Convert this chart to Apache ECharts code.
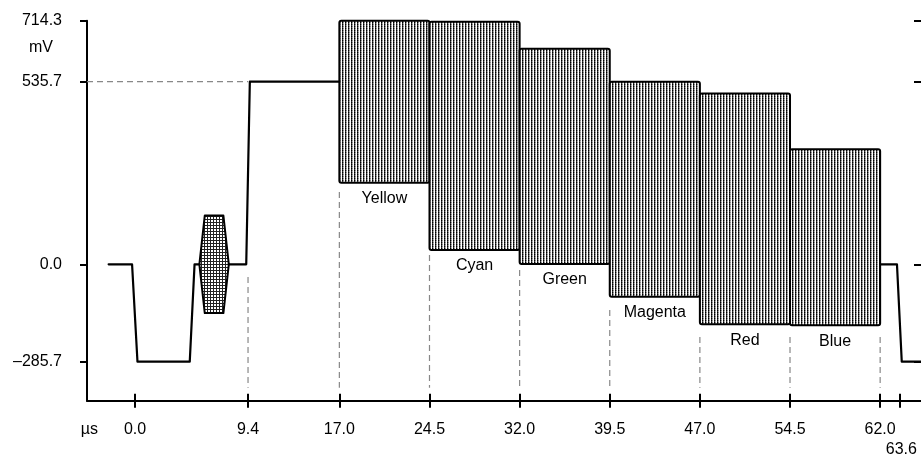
<!DOCTYPE html>
<html><head><meta charset="utf-8">
<script src="https://cdn.jsdelivr.net/npm/echarts@6/dist/echarts.min.js"></script>
<style>html,body{margin:0;padding:0;background:#fff}#c{width:921px;height:458px}</style>
</head><body><div id="c"></div>
<script>
// ---------- data ----------
const xTicks = [0.0, 9.4, 17.0, 24.5, 32.0, 39.5, 47.0, 54.5, 62.0, 63.6];
const xLowLabels = [63.6];            // tick label printed on a second, lower row
const yTicks = [-285.7, 0.0, 535.7, 714.3];
const xUnit = 'µs';
const yUnit = 'mV';
const barNames  = ['Yellow', 'Cyan', 'Green', 'Magenta', 'Red', 'Blue'];
const barStart  = [17.0, 24.5, 32.0, 39.5, 47.0, 54.5];
const barEnd    = [24.5, 32.0, 39.5, 47.0, 54.5, 62.0];
const barTop    = [714, 711, 632, 535, 501, 337];
const barBottom = [239, 42, 1, -95, -176, -179];
// colour burst envelope (µs, ±mV)
const burstTime = [5.35, 5.8, 7.35, 7.8];
const burstAmp  = [0, 142.9, 142.9, 0];
// waveform segments (µs, mV)
const waveA_t = [-2.2, -0.25, 0.2, 4.55, 4.95, 5.35];
const waveA_v = [0, 0, -285.7, -285.7, 0, 0];
const waveB_t = [7.8, 9.25, 9.55, 17.0];
const waveB_v = [0, 0, 535.7, 535.7];
const waveC_t = [62.0, 63.4, 63.8, 65.4];
const waveC_v = [0, 0, -285.7, -285.7];
// dashed guides
const refLevel = 535.7, refEnd = 9.4;
const guideTime   = [9.4, 17.0, 24.5, 32.0, 39.5, 47.0, 54.5, 62.0];
const guideTop    = [-37, 212, 27, -17, -134, -213, -213, -213];
const guideBottom = -362;

// ---------- layout constants ----------
const xMin = -4, xMax = 65.4, yMin = -400, yMax = 714.3;
const xUnitAt = -3.8, yUnitAt = 636;
const FONT = 'Liberation Sans';

// patterns
function stripePattern() {
  const c = document.createElement('canvas'); c.width = 3; c.height = 2;
  const g = c.getContext('2d');
  g.fillStyle = '#fff'; g.fillRect(0, 0, 3, 2);
  g.fillStyle = '#000'; g.fillRect(0, 0, 1, 1);
  g.fillStyle = '#333'; g.fillRect(0, 1, 1, 1);
  g.fillStyle = '#888'; g.fillRect(1, 0, 1, 1);
  g.fillStyle = '#bbb'; g.fillRect(1, 1, 1, 1);
  return { image: c, repeat: 'repeat' };
}
function gridPattern() {
  const c = document.createElement('canvas'); c.width = 3; c.height = 3;
  const g = c.getContext('2d');
  g.fillStyle = '#fff'; g.fillRect(0, 0, 3, 3);
  g.fillStyle = '#222'; g.fillRect(0, 0, 3, 1); g.fillRect(0, 0, 1, 3);
  return { image: c, repeat: 'repeat' };
}
const stripes = stripePattern();
const gridFill = gridPattern();

const zip = (a, b) => a.map((v, i) => [v, b[i]]);
const fmt = v => (v < 0 ? '\u2013' + Math.abs(v).toFixed(1) : v.toFixed(1));

const chart = echarts.init(document.getElementById('c'), null, { renderer: 'canvas' });

const waveStyle = { color: '#000', width: 2.2, join: 'round', cap: 'round' };
function waveSeries(t, v) {
  return { type: 'line', data: zip(t, v), symbol: 'none', silent: true, z: 5,
    lineStyle: waveStyle, animation: false };
}
const topRowLabels = xTicks.filter(v => xLowLabels.indexOf(v) < 0);

const option = {
  animation: false,
  backgroundColor: '#fff',
  grid: { left: 87, right: 0, top: 20.7, bottom: 57.3, containLabel: false, outerBoundsMode: 'none' },
  xAxis: [{
    type: 'value', min: xMin, max: xMax, position: 'bottom',
    axisLine: { show: true, onZero: false, lineStyle: { color: '#000', width: 2 } },
    axisTick: { show: true, customValues: xTicks, length: 7, inside: false, lineStyle: { color: '#000', width: 2 } },
    axisLabel: {
      customValues: [xUnitAt].concat(topRowLabels), margin: 21, color: '#000',
      fontFamily: FONT, fontSize: 16, hideOverlap: false,
      formatter: v => (v === xUnitAt ? xUnit : fmt(v))
    },
    splitLine: { show: false }
  }, {
    type: 'value', min: xMin, max: xMax, position: 'bottom',
    axisLine: { show: false, onZero: false },
    axisTick: { show: true, customValues: xTicks, length: 7, inside: true, lineStyle: { color: '#000', width: 2 } },
    axisLabel: {
      customValues: xLowLabels, margin: 41, color: '#000',
      fontFamily: FONT, fontSize: 16, hideOverlap: false,
      formatter: v => '{d|' + fmt(v) + '}',
      rich: { d: { fontFamily: FONT, fontSize: 16, color: '#000', padding: [0, 0, 0, 4] } }
    },
    splitLine: { show: false }
  }],
  yAxis: [{
    type: 'value', min: yMin, max: yMax,
    axisLine: { show: true, onZero: false, lineStyle: { color: '#000', width: 2 } },
    axisTick: { show: true, customValues: yTicks, length: 7, inside: false, lineStyle: { color: '#000', width: 2 } },
    axisLabel: {
      customValues: yTicks.concat([yUnitAt]), margin: 25, color: '#000',
      fontFamily: FONT, fontSize: 16, hideOverlap: false,
      formatter: v => (v === yUnitAt ? '{u|' + yUnit + '}' : fmt(v)),
      rich: { u: { fontFamily: FONT, fontSize: 16, color: '#000', padding: [0, 9, 0, 0] } }
    },
    splitLine: { show: false }
  }, {
    type: 'value', min: yMin, max: yMax,
    axisLine: { show: false, onZero: false },
    axisTick: { show: true, customValues: yTicks, length: 7, inside: true, lineStyle: { color: '#000', width: 2 } },
    axisLabel: { show: false }, splitLine: { show: false }
  }],
  series: [
    // horizontal dashed reference
    { type: 'line', data: [[xMin, refLevel], [refEnd, refLevel]], symbol: 'none', silent: true, z: 1,
      lineStyle: { color: '#888', width: 1.2, type: [6, 4] } },
    // vertical dashed guides
    { type: 'custom', z: 1, silent: true,
      data: guideTime.map((t, i) => [t, guideTop[i], guideBottom]),
      renderItem: (params, api) => {
        const a = api.coord([api.value(0), api.value(1)]);
        const b = api.coord([api.value(0), api.value(2)]);
        return { type: 'line', shape: { x1: a[0], y1: a[1], x2: b[0], y2: b[1] },
          style: { stroke: '#888', lineWidth: 1.2, lineDash: [6, 4] } };
      } },
    waveSeries(waveA_t, waveA_v),
    waveSeries(waveB_t, waveB_v),
    waveSeries(waveC_t, waveC_v),
    // colour bars
    { type: 'custom', z: 4, silent: true,
      data: barNames.map((n, i) => [barStart[i], barEnd[i], barTop[i], barBottom[i]]),
      renderItem: (params, api) => {
        const i = params.dataIndex;
        const p1 = api.coord([api.value(0), api.value(2)]);
        const p2 = api.coord([api.value(1), api.value(3)]);
        return { type: 'group', children: [
          { type: 'rect', shape: { x: p1[0], y: p1[1], width: p2[0] - p1[0], height: p2[1] - p1[1], r: 2 },
            style: { fill: stripes, stroke: '#000', lineWidth: 2 } },
          { type: 'text', x: (p1[0] + p2[0]) / 2, y: p2[1] + 16,
            style: { text: barNames[i], fill: '#000', font: '16px "' + FONT + '"', align: 'center', verticalAlign: 'middle' } }
        ] };
      } },
    // colour burst
    { type: 'custom', z: 4, silent: true,
      data: [[burstTime[0], 0]],
      renderItem: (params, api) => {
        const up = burstTime.map((t, i) => api.coord([t, burstAmp[i]]));
        const dn = burstTime.map((t, i) => api.coord([t, -burstAmp[i]])).reverse();
        return { type: 'polygon', shape: { points: up.concat(dn.slice(1, dn.length - 1)) },
          style: { fill: gridFill, stroke: '#000', lineWidth: 2, lineJoin: 'round' } };
      } }
  ]
};
chart.setOption(option);
</script>
</body></html>
